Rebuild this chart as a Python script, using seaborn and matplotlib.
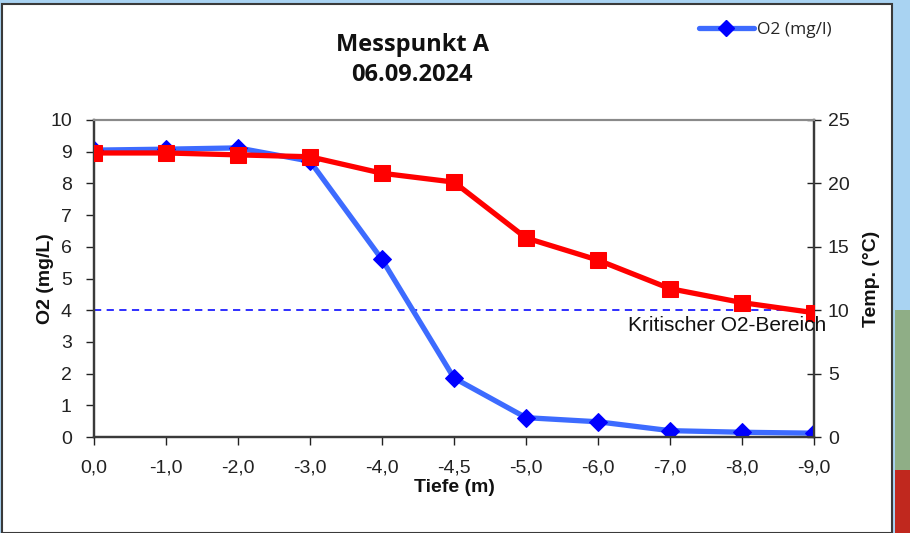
import numpy as np
import pandas as pd
import matplotlib
matplotlib.use("Agg")
import matplotlib.pyplot as plt
from matplotlib.patches import Rectangle
from matplotlib.lines import Line2D
import seaborn as sns

# ---- data ----
depth_labels = ["0,0", "-1,0", "-2,0", "-3,0", "-4,0", "-4,5", "-5,0", "-6,0", "-7,0", "-8,0", "-9,0"]
o2_values = [9.05, 9.08, 9.12, 8.7, 5.6, 1.86, 0.61, 0.48, 0.2, 0.15, 0.12]
temp_values = [22.4, 22.4, 22.25, 22.1, 20.8, 20.1, 15.7, 13.95, 11.7, 10.6, 9.8]
critical_o2 = 4
title_lines = ["Messpunkt A", "06.09.2024"]
legend_label = "O2 (mg/l)"
o2_ticks = list(range(0, 11))
temp_ticks = list(range(0, 26, 5))

sns.set_theme(style="white")
plt.rcParams['font.family'] = ['Liberation Sans', 'DejaVu Sans']

W, H = 910, 533
fig = plt.figure(figsize=(W / 100, H / 100), dpi=100)
fig.patch.set_facecolor("#a9d3f2")

# chart area frame (white with dark border)
fig.patches.append(Rectangle((2 / W, 0), (892 - 2) / W, (H - 4) / H, transform=fig.transFigure,
                             facecolor="white", edgecolor="#3a3a3a", linewidth=1.5, zorder=-2))
# background photo hints at right edge
fig.patches.append(Rectangle((895 / W, 0), 15 / W, (533 - 310) / H, transform=fig.transFigure,
                             facecolor="#8fae86", edgecolor="none", zorder=-2))
fig.patches.append(Rectangle((895 / W, 0), 15 / W, (533 - 470) / H, transform=fig.transFigure,
                             facecolor="#c0281e", edgecolor="none", zorder=-2))

df = pd.DataFrame({"pos": np.arange(len(depth_labels)), "o2": o2_values, "temp": temp_values})

ax = fig.add_axes([94 / W, (H - 437) / H, (814 - 94) / W, (437 - 120) / H])
ax.set_facecolor("white")
sns.lineplot(data=df, x="pos", y="o2", ax=ax, color="#3d6bff", linewidth=3.8,
             marker="D", markersize=9, markerfacecolor="#0000ff", markeredgecolor="#0000ff",
             label=legend_label, legend=False, zorder=3)
ax.axhline(critical_o2, color="#1f1fff", linestyle=(0, (4, 3)), linewidth=1.3, zorder=2)

ax.set_xlim(0, len(depth_labels) - 1)
ax.set_ylim(0, 10)
ax.set_yticks(o2_ticks)
ax.set_xticks(df["pos"])
ax.set_xticklabels(depth_labels)
ax.tick_params(axis="both", labelsize=14, colors="#222222", length=6, width=1, direction="out",
               bottom=True, left=True)
ax.tick_params(axis="y", pad=10)
ax.tick_params(axis="x", pad=10)
ax.set_xlabel("Tiefe (m)", fontsize=14, fontweight="bold", color="#111111")
ax.set_ylabel("O2 (mg/L)", fontsize=14, fontweight="bold", color="#111111")
ax.xaxis.set_label_coords(0.5, (437 - 488) / 317)
ax.xaxis.label.set_va("center")
ax.yaxis.set_label_coords((45 - 94) / 720, 0.5)
ax.yaxis.label.set_va("center")

ax2 = ax.twinx()
sns.lineplot(data=df, x="pos", y="temp", ax=ax2, color="#ff0000", linewidth=3.8,
             marker="s", markersize=11, markerfacecolor="#ff0000", markeredgecolor="#ff0000",
             legend=False, zorder=3)
ax2.set_ylim(0, 25)
ax2.set_yticks(temp_ticks)
ax2.tick_params(axis="y", labelsize=14, colors="#222222", length=10, width=1, direction="inout",
                right=True, pad=5)
ax2.set_ylabel("Temp. (°C)", fontsize=14, fontweight="bold", color="#111111", rotation=90)
ax2.yaxis.set_label_coords((872 - 94) / 720, 0.5)
ax2.yaxis.label.set_va("center")
ax2.set_xlim(0, len(depth_labels) - 1)

for a in (ax, ax2):
    for side in ("left", "bottom", "right"):
        a.spines[side].set_color("#3a3a3a")
        a.spines[side].set_linewidth(1.6)
    a.spines["top"].set_color("#8a8a8a")
    a.spines["top"].set_linewidth(1.5)

ax2.text(len(depth_labels) - 1 + 0.17, critical_o2 * 2.5 - 1.22, "Kritischer O2-Bereich",
         ha="right", va="center", fontsize=15, color="#111111", zorder=5)

fig.text(412 / W, 1 - 45 / H, title_lines[0], ha="center", va="center", fontsize=17,
         fontweight="bold", family=["Open Sans", "DejaVu Sans"], color="#111111")
fig.text(412 / W, 1 - 75 / H, title_lines[1], ha="center", va="center", fontsize=17,
         fontweight="bold", family=["Open Sans", "DejaVu Sans"], color="#111111")

handle = Line2D([], [], color="#3d6bff", linewidth=3.8, marker="D", markersize=8,
                markerfacecolor="#0000ff", markeredgecolor="#0000ff")
fig.legend([handle], [legend_label], loc="center left", bbox_to_anchor=(683 / W, 1 - 30 / H),
           frameon=False, handlelength=3.2, handletextpad=0.15,
           prop={"family": ["Open Sans", "DejaVu Sans"], "size": 12.5})

fig.savefig("out.png", dpi=100, facecolor=fig.get_facecolor())
